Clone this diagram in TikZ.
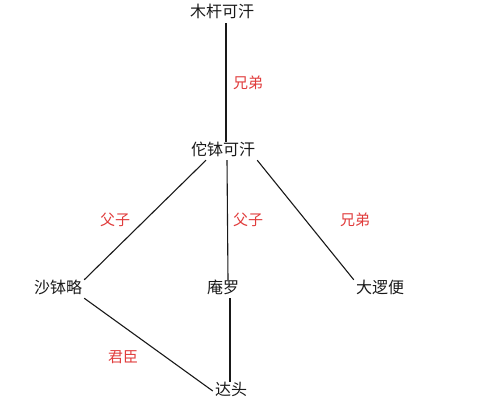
\documentclass[tikz,border=0pt]{standalone}
\usepackage{fontspec}
\newfontfamily\cjk{Noto Sans CJK SC}
\usepackage{xcolor}
\usetikzlibrary{positioning}
\definecolor{relred}{HTML}{E03C3C}
\tikzset{
    person/.style={font=\cjk\fontsize{16}{19}\selectfont, text=black!90, inner sep=2pt, text height=11pt, text depth=3pt},
    relation/.style={font=\cjk\fontsize{15}{18}\selectfont, text=relred, inner sep=1pt},
    link/.style={line width=1.1pt, black!90}
}

\begin{document}
\begin{tikzpicture}[x=1pt, y=-1pt]
    \useasboundingbox (0,0) rectangle (500,404);

    % Draw the people
    \node[person] (mugan) at (222,14) {木杆可汗};
    \node[person] (tuobo) at (223,151) {佗钵可汗};
    \node[person] (shabolue) at (58,289) {沙钵略};
    \node[person] (anluo) at (223,289) {庵罗};
    \node[person] (daluobian) at (380,289) {大逻便};
    \node[person] (datou) at (231,391) {达头};

    % Draw the links
    \draw[link] ([xshift=4pt]mugan.south) -- ([xshift=3pt]tuobo.north);
    \draw[link] ([xshift=-17pt]tuobo.south) -- (shabolue.north east);
    \draw[link] ([xshift=4pt]tuobo.south) -- ([xshift=5pt]anluo.north);
    \draw[link] (tuobo.south east) -- (daluobian.north west);
    \draw[link] (shabolue.south east) -- (datou.west);
    \draw[link] ([xshift=7pt]anluo.south) -- ([xshift=-1pt]datou.north);

    % Draw the relation labels
    \node[relation] (brother1) at (248,83) {兄弟};
    \node[relation] (father1) at (115,220) {父子};
    \node[relation] (father2) at (248,220) {父子};
    \node[relation] (brother2) at (355,220) {兄弟};
    \node[relation] (lord) at (123,357) {君臣};
\end{tikzpicture}
\end{document}
